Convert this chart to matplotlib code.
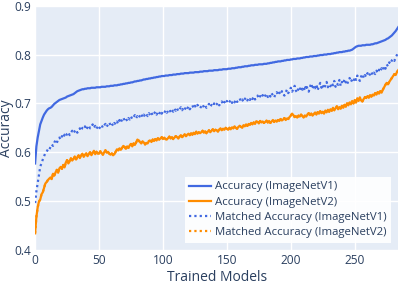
import matplotlib.pyplot as plt

# accuracy of each trained model, sorted by ImageNetV1 accuracy
acc_v1 = [
    0.577, 0.612, 0.630, 0.644, 0.657, 0.664, 0.671, 0.677, 0.681, 0.685,
    0.688, 0.690, 0.691, 0.693, 0.696, 0.699, 0.701, 0.703, 0.705, 0.707,
    0.708, 0.709, 0.710, 0.711, 0.712, 0.714, 0.715, 0.716, 0.717, 0.718,
    0.719, 0.721, 0.723, 0.725, 0.726, 0.727, 0.728, 0.729, 0.729, 0.730,
    0.730, 0.731, 0.731, 0.731, 0.732, 0.732, 0.732, 0.732, 0.733, 0.733,
    0.733, 0.733, 0.734, 0.734, 0.734, 0.734, 0.735, 0.735, 0.735, 0.736,
    0.736, 0.736, 0.737, 0.737, 0.737, 0.738, 0.738, 0.739, 0.739, 0.740,
    0.740, 0.741, 0.741, 0.742, 0.742, 0.743, 0.743, 0.744, 0.745, 0.745,
    0.746, 0.746, 0.747, 0.747, 0.748, 0.749, 0.749, 0.750, 0.750, 0.751,
    0.751, 0.752, 0.752, 0.753, 0.753, 0.754, 0.754, 0.755, 0.755, 0.756,
    0.756, 0.756, 0.757, 0.757, 0.757, 0.758, 0.758, 0.758, 0.759, 0.759,
    0.759, 0.760, 0.760, 0.760, 0.761, 0.761, 0.761, 0.762, 0.762, 0.762,
    0.762, 0.763, 0.763, 0.763, 0.763, 0.764, 0.764, 0.764, 0.764, 0.765,
    0.765, 0.765, 0.766, 0.766, 0.766, 0.766, 0.767, 0.767, 0.767, 0.767,
    0.768, 0.768, 0.768, 0.768, 0.769, 0.769, 0.769, 0.770, 0.770, 0.770,
    0.770, 0.771, 0.771, 0.771, 0.772, 0.772, 0.772, 0.773, 0.773, 0.774,
    0.774, 0.774, 0.775, 0.775, 0.776, 0.776, 0.776, 0.777, 0.777, 0.778,
    0.778, 0.778, 0.779, 0.779, 0.779, 0.780, 0.780, 0.780, 0.780, 0.781,
    0.781, 0.781, 0.782, 0.782, 0.783, 0.783, 0.784, 0.784, 0.785, 0.785,
    0.786, 0.786, 0.786, 0.787, 0.787, 0.788, 0.788, 0.789, 0.789, 0.789,
    0.790, 0.790, 0.791, 0.791, 0.791, 0.792, 0.792, 0.792, 0.793, 0.793,
    0.794, 0.794, 0.795, 0.795, 0.795, 0.796, 0.796, 0.796, 0.797, 0.797,
    0.797, 0.798, 0.798, 0.799, 0.799, 0.799, 0.800, 0.800, 0.800, 0.801,
    0.801, 0.801, 0.802, 0.802, 0.803, 0.803, 0.804, 0.804, 0.805, 0.805,
    0.805, 0.806, 0.806, 0.807, 0.807, 0.808, 0.808, 0.809, 0.810, 0.812,
    0.814, 0.816, 0.817, 0.818, 0.818, 0.818, 0.819, 0.819, 0.819, 0.820,
    0.820, 0.820, 0.820, 0.821, 0.821, 0.822, 0.823, 0.823, 0.824, 0.825,
    0.826, 0.827, 0.828, 0.829, 0.830, 0.832, 0.833, 0.835, 0.837, 0.839,
    0.842, 0.845, 0.848, 0.852, 0.856,
]

acc_v2 = [
    0.434, 0.468, 0.487, 0.499, 0.503, 0.514, 0.518, 0.527, 0.536, 0.539,
    0.543, 0.546, 0.548, 0.545, 0.556, 0.552, 0.559, 0.564, 0.558, 0.567,
    0.570, 0.566, 0.574, 0.569, 0.579, 0.584, 0.577, 0.582, 0.588, 0.583,
    0.586, 0.591, 0.585, 0.590, 0.594, 0.588, 0.593, 0.597, 0.591, 0.595,
    0.598, 0.592, 0.596, 0.600, 0.594, 0.599, 0.603, 0.596, 0.601, 0.597,
    0.597, 0.602, 0.598, 0.595, 0.600, 0.604, 0.599, 0.601, 0.597, 0.595,
    0.598, 0.594, 0.596, 0.601, 0.606, 0.604, 0.608, 0.605, 0.609, 0.613,
    0.611, 0.607, 0.612, 0.609, 0.614, 0.617, 0.612, 0.618, 0.615, 0.620,
    0.626, 0.624, 0.621, 0.618, 0.622, 0.620, 0.616, 0.619, 0.618, 0.623,
    0.624, 0.621, 0.626, 0.623, 0.627, 0.624, 0.629, 0.626, 0.628, 0.631,
    0.627, 0.630, 0.627, 0.626, 0.629, 0.632, 0.628, 0.631, 0.627, 0.630,
    0.633, 0.631, 0.628, 0.632, 0.635, 0.631, 0.634, 0.637, 0.633, 0.636,
    0.638, 0.635, 0.639, 0.636, 0.640, 0.637, 0.642, 0.638, 0.641, 0.639,
    0.641, 0.644, 0.640, 0.643, 0.639, 0.642, 0.645, 0.641, 0.644, 0.647,
    0.643, 0.646, 0.645, 0.642, 0.646, 0.649, 0.645, 0.648, 0.646, 0.650,
    0.648, 0.646, 0.650, 0.647, 0.651, 0.649, 0.653, 0.650, 0.648, 0.652,
    0.654, 0.652, 0.650, 0.655, 0.653, 0.657, 0.654, 0.658, 0.656, 0.660,
    0.657, 0.661, 0.658, 0.663, 0.662, 0.659, 0.664, 0.661, 0.663, 0.660,
    0.662, 0.665, 0.661, 0.664, 0.660, 0.663, 0.666, 0.662, 0.665, 0.663,
    0.666, 0.664, 0.668, 0.665, 0.667, 0.670, 0.666, 0.669, 0.668, 0.672,
    0.675, 0.679, 0.676, 0.672, 0.674, 0.671, 0.675, 0.673, 0.677, 0.674,
    0.671, 0.675, 0.673, 0.677, 0.680, 0.676, 0.679, 0.675, 0.678, 0.681,
    0.677, 0.682, 0.679, 0.684, 0.680, 0.683, 0.679, 0.685, 0.682, 0.687,
    0.683, 0.688, 0.685, 0.691, 0.686, 0.690, 0.694, 0.688, 0.692, 0.689,
    0.695, 0.691, 0.697, 0.693, 0.700, 0.696, 0.702, 0.698, 0.705, 0.700,
    0.707, 0.702, 0.710, 0.705, 0.712, 0.706, 0.704, 0.709, 0.713, 0.711,
    0.715, 0.712, 0.717, 0.714, 0.718, 0.716, 0.721, 0.718, 0.723, 0.720,
    0.725, 0.722, 0.728, 0.733, 0.738, 0.742, 0.739, 0.744, 0.748, 0.752,
    0.756, 0.760, 0.758, 0.764, 0.768,
]

matched_v1 = [
    0.496, 0.520, 0.537, 0.555, 0.570, 0.578, 0.585, 0.592, 0.598, 0.601,
    0.606, 0.604, 0.611, 0.616, 0.613, 0.620, 0.624, 0.619, 0.627, 0.630,
    0.626, 0.633, 0.629, 0.636, 0.632, 0.638, 0.641, 0.635, 0.640, 0.644,
    0.639, 0.643, 0.646, 0.640, 0.645, 0.649, 0.644, 0.650, 0.648, 0.653,
    0.646, 0.651, 0.655, 0.649, 0.652, 0.657, 0.650, 0.654, 0.648, 0.653,
    0.648, 0.652, 0.656, 0.650, 0.655, 0.658, 0.652, 0.657, 0.661, 0.655,
    0.659, 0.654, 0.660, 0.657, 0.663, 0.658, 0.666, 0.661, 0.667, 0.671,
    0.665, 0.669, 0.664, 0.670, 0.667, 0.673, 0.668, 0.672, 0.676, 0.670,
    0.674, 0.670, 0.675, 0.679, 0.672, 0.677, 0.673, 0.678, 0.674, 0.680,
    0.676, 0.681, 0.675, 0.679, 0.683, 0.677, 0.682, 0.678, 0.684, 0.679,
    0.683, 0.680, 0.686, 0.681, 0.684, 0.688, 0.682, 0.687, 0.683, 0.689,
    0.685, 0.690, 0.684, 0.688, 0.692, 0.686, 0.691, 0.687, 0.693, 0.689,
    0.694, 0.688, 0.692, 0.696, 0.690, 0.695, 0.691, 0.697, 0.693, 0.690,
    0.694, 0.698, 0.692, 0.696, 0.691, 0.695, 0.699, 0.693, 0.697, 0.694,
    0.700, 0.695, 0.698, 0.702, 0.696, 0.700, 0.704, 0.698, 0.703, 0.699,
    0.705, 0.700, 0.703, 0.707, 0.701, 0.706, 0.702, 0.708, 0.703, 0.706,
    0.710, 0.704, 0.708, 0.703, 0.709, 0.712, 0.706, 0.711, 0.707, 0.713,
    0.709, 0.714, 0.708, 0.712, 0.716, 0.710, 0.715, 0.711, 0.717, 0.712,
    0.716, 0.720, 0.713, 0.718, 0.714, 0.721, 0.716, 0.712, 0.719, 0.723,
    0.717, 0.722, 0.718, 0.725, 0.719, 0.716, 0.723, 0.728, 0.721, 0.726,
    0.732, 0.724, 0.729, 0.736, 0.726, 0.722, 0.731, 0.727, 0.735, 0.728,
    0.733, 0.726, 0.738, 0.730, 0.724, 0.734, 0.741, 0.729, 0.736, 0.731,
    0.739, 0.727, 0.735, 0.742, 0.732, 0.738, 0.730, 0.736, 0.744, 0.733,
    0.739, 0.735, 0.742, 0.737, 0.746, 0.734, 0.741, 0.738, 0.748, 0.736,
    0.744, 0.740, 0.750, 0.743, 0.738, 0.747, 0.752, 0.744, 0.749, 0.745,
    0.754, 0.748, 0.757, 0.751, 0.746, 0.755, 0.760, 0.752, 0.758, 0.754,
    0.762, 0.756, 0.760, 0.765, 0.758, 0.763, 0.760, 0.767, 0.762, 0.769,
    0.765, 0.772, 0.768, 0.776, 0.771, 0.780, 0.776, 0.784, 0.781, 0.788,
    0.791, 0.787, 0.795, 0.799, 0.805,
]

# matched V2 accuracy sits on top of the V2 curve
matched_v2 = list(acc_v2)

models = list(range(len(acc_v1)))

plt.rcParams['font.family'] = ['Open Sans', 'DejaVu Sans']
txt = '#2a3f5f'

fig = plt.figure(figsize=(3.99, 2.85), dpi=100)
ax = fig.add_axes([0.088, 0.123, 0.910, 0.857])
ax.set_facecolor('#E5ECF6')

ax.plot(models, acc_v1, color='royalblue', lw=1.6, label='Accuracy (ImageNetV1)')
ax.plot(models, acc_v2, color='darkorange', lw=1.6, label='Accuracy (ImageNetV2)')
ax.plot(models, matched_v1, color='royalblue', lw=1.6, ls=(0, (1, 1.4)),
        label='Matched Accuracy (ImageNetV1)')
ax.plot(models, matched_v2, color='darkorange', lw=1.6, ls=(0, (1, 1.4)),
        label='Matched Accuracy (ImageNetV2)')

ax.set_xlim(0, 284)
ax.set_ylim(0.4, 0.9)
ax.set_xticks([0, 50, 100, 150, 200, 250])
ax.set_yticks([0.4, 0.5, 0.6, 0.7, 0.8, 0.9])
ax.grid(color='white', lw=1)
ax.set_axisbelow(True)
for s in ax.spines.values():
    s.set_visible(False)
ax.tick_params(length=0, labelsize=8.6, labelcolor=txt, pad=3)
ax.set_xlabel('Trained Models', fontsize=10, color=txt, va='center')
ax.set_ylabel('Accuracy', fontsize=10, color=txt, va='center')
ax.xaxis.set_label_coords(0.5, -0.112)
ax.yaxis.set_label_coords(-0.079, 0.5)

leg = ax.legend(loc='lower right', fontsize=8.2, frameon=True, facecolor='white',
                edgecolor='none', framealpha=0.9, fancybox=False, handlelength=1.9,
                handletextpad=0.3, labelspacing=0.38, borderpad=0.4,
                bbox_to_anchor=(0.995, 0.005))
for t in leg.get_texts():
    t.set_color(txt)

plt.savefig('out.png', dpi=100)
